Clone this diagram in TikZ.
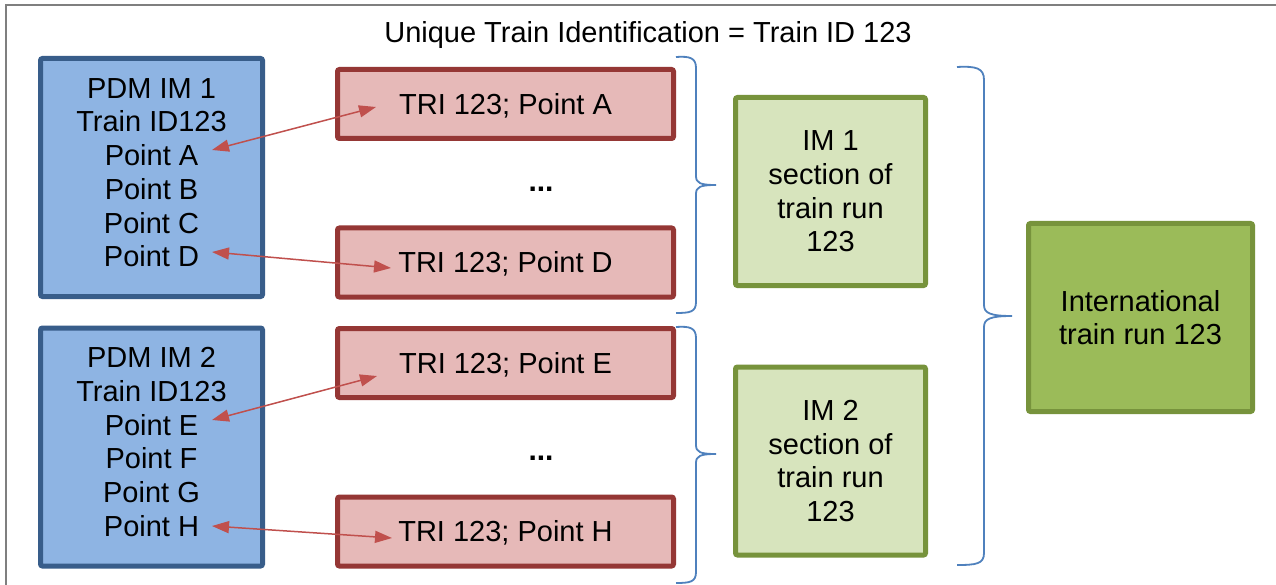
\documentclass[tikz,border=0pt]{standalone}
\usepackage{fontspec}
\setmainfont{Liberation Sans}
\usetikzlibrary{arrows.meta}
\definecolor{bluefill}{HTML}{8EB4E3}
\definecolor{blueline}{HTML}{385D8A}
\definecolor{redfill}{HTML}{E6B9B8}
\definecolor{redline}{HTML}{953735}
\definecolor{lgfill}{HTML}{D7E4BD}
\definecolor{gfill}{HTML}{9BBB59}
\definecolor{gline}{HTML}{77933C}
\definecolor{arrowred}{HTML}{C0504D}
\definecolor{bracecol}{HTML}{4F81BD}
\definecolor{framecol}{HTML}{7F7F7F}
\begin{document}
\begin{tikzpicture}[x=1pt,y=-1pt,
  txt/.style={font=\fontsize{29}{33.7}\selectfont, align=center, inner sep=0pt},
  pdm/.style={txt, draw=blueline, fill=bluefill, line width=5pt, rounded corners=2pt,
    minimum width=222pt, minimum height=238pt},
  tri/.style={txt, draw=redline, fill=redfill, line width=5pt, rounded corners=2pt,
    minimum width=336pt, minimum height=69pt, text height=20.8pt, text depth=0pt},
  sect/.style={txt, draw=gline, fill=lgfill, line width=5pt, rounded corners=2pt,
    minimum width=190pt, minimum height=188pt},
  intl/.style={txt, draw=gline, fill=gfill, line width=5pt, rounded corners=2pt,
    minimum width=224pt, minimum height=188pt},
  link/.style={arrowred, line width=1.5pt, {Triangle[length=17pt,width=12pt]}-{Triangle[length=17pt,width=12pt]}},
  bracestyle/.style={bracecol, line width=1.8pt},
  framestyle/.style={framecol, line width=2pt}
]
\useasboundingbox (0,0) rectangle (1276,585);
\fill[white] (0,0) rectangle (1276,585);
\draw[framestyle] (6,585) -- (6,5) -- (1276,5);

\node[txt] (title) at (648,35) {Unique Train Identification = Train ID 123};

\node[pdm] (pdm1) at (151.5,177.5) {PDM IM 1\\Train ID123\\Point A\\Point B\\Point C\\Point D\\[-23.7pt]\mbox{}};
\node[pdm] (pdm2) at (151.5,447) {PDM IM 2\\Train ID123\\Point E\\Point F\\Point G\\Point H\\[-23.7pt]\mbox{}};

\node[tri] (triA) at (505.5,104) {TRI 123; Point A};
\node[tri] (triD) at (505.5,262.5) {TRI 123; Point D};
\node[tri] (triE) at (505.5,363) {TRI 123; Point E};
\node[tri] (triH) at (505.5,531.5) {TRI 123; Point H};

\node[txt, font=\fontsize{30}{33.7}\selectfont\bfseries] (dots1) at (541,189) {...};
\node[txt, font=\fontsize{30}{33.7}\selectfont\bfseries] (dots2) at (541,458) {...};

\node[sect] (sec1) at (830.5,191.5) {IM 1\\section of\\train run\\123};
\node[sect] (sec2) at (830.5,461) {IM 2\\section of\\train run\\123};

\node[intl] (intl) at (1140.5,317.5) {International\\train run 123};

% arrow end points
\coordinate (pA) at (212,150);
\coordinate (tA) at (376,107);
\coordinate (pD) at (212,252);
\coordinate (tD) at (391,268);
\coordinate (pE) at (212,420);
\coordinate (tE) at (377,376);
\coordinate (pH) at (212,526);
\coordinate (tH) at (392,538);
\draw[link] (pA) -- (tA);
\draw[link] (pD) -- (tD);
\draw[link] (pE) -- (tE);
\draw[link] (pH) -- (tH);

% braces
\draw[bracestyle] (676,57) .. controls (690,56) and (696,58) .. (696,68)
  -- (696,176) .. controls (696,183) and (700,185) .. (716,185)
  .. controls (700,185) and (696,187) .. (696,194)
  -- (696,302) .. controls (696,312) and (690,313) .. (676,313);
\draw[bracestyle] (676,327) .. controls (690,326) and (696,328) .. (696,338)
  -- (696,445) .. controls (696,452) and (700,454) .. (716,454)
  .. controls (700,454) and (696,456) .. (696,463)
  -- (696,572) .. controls (696,582) and (690,583) .. (676,583);
\draw[bracestyle] (957,67) .. controls (976,66) and (984,68) .. (984,80)
  -- (984,305) .. controls (984,313) and (990,316) .. (1012,316)
  .. controls (990,316) and (984,319) .. (984,327)
  -- (984,553) .. controls (984,564) and (976,565) .. (957,565);
\end{tikzpicture}
\end{document}
